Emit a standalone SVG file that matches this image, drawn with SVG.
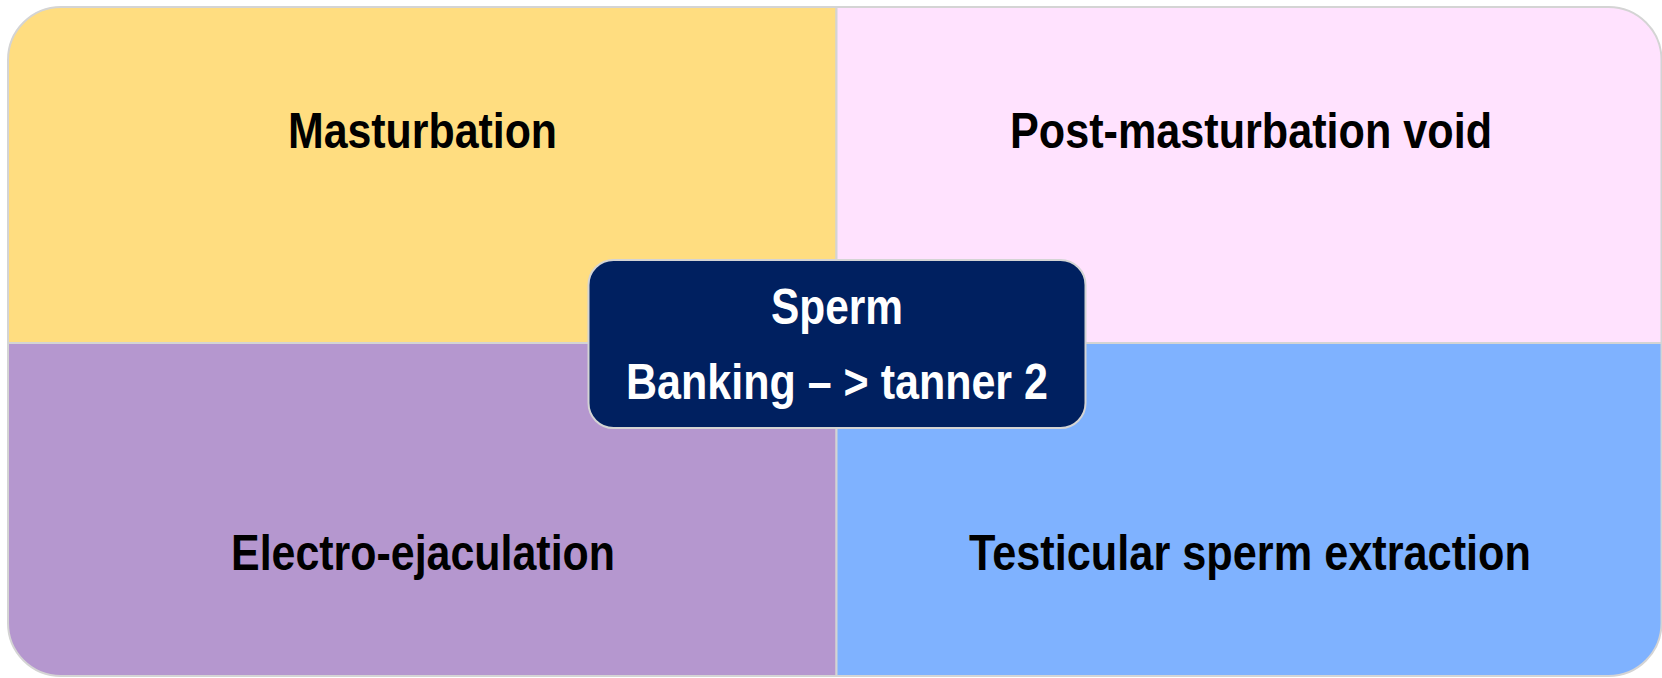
<svg xmlns="http://www.w3.org/2000/svg" width="1662" height="678" viewBox="0 0 1662 678">
<style>
.q{stroke:#d4d4d4;stroke-width:2}
.t{font-family:"Liberation Sans",Arial,sans-serif;font-weight:bold;font-size:50px;text-anchor:middle;fill:#000}
.w{fill:#fff}
</style>
<rect width="1662" height="678" fill="#fff"/>
<g id="masturbation">
<path class="q" fill="#FFDD80" d="M8,343 V60 A53,53 0 0 1 61,7 H836.5 V343 Z"/>
<text class="t" x="422.5" y="148" textLength="269" lengthAdjust="spacingAndGlyphs">Masturbation</text>
</g>
<g id="post-masturbation-void">
<path class="q" fill="#FFE2FE" d="M836.5,7 H1608.5 A53,53 0 0 1 1661.5,60 V343 H836.5 Z"/>
<text class="t" x="1251" y="148" textLength="482" lengthAdjust="spacingAndGlyphs">Post-masturbation void</text>
</g>
<g id="electro-ejaculation">
<path class="q" fill="#B597CF" d="M8,343 H836.5 V676 H61 A53,53 0 0 1 8,623 Z"/>
<text class="t" x="423" y="570" textLength="384" lengthAdjust="spacingAndGlyphs">Electro-ejaculation</text>
</g>
<g id="testicular-sperm-extraction">
<path class="q" fill="#7FB2FF" d="M836.5,343 H1661.5 V623 A53,53 0 0 1 1608.5,676 H836.5 Z"/>
<text class="t" x="1250" y="570" textLength="562" lengthAdjust="spacingAndGlyphs">Testicular sperm extraction</text>
</g>
<g id="connectors"></g>
<g id="sperm-banking">
<rect x="588.5" y="260" width="497" height="168" rx="25" ry="25" fill="#002060" stroke="#d4d4d4" stroke-width="2"/>
<text class="t w" x="837" y="324" textLength="132" lengthAdjust="spacingAndGlyphs">Sperm</text>
<text class="t w" x="837" y="399" textLength="422" lengthAdjust="spacingAndGlyphs">Banking – &gt; tanner 2</text>
</g>
</svg>
